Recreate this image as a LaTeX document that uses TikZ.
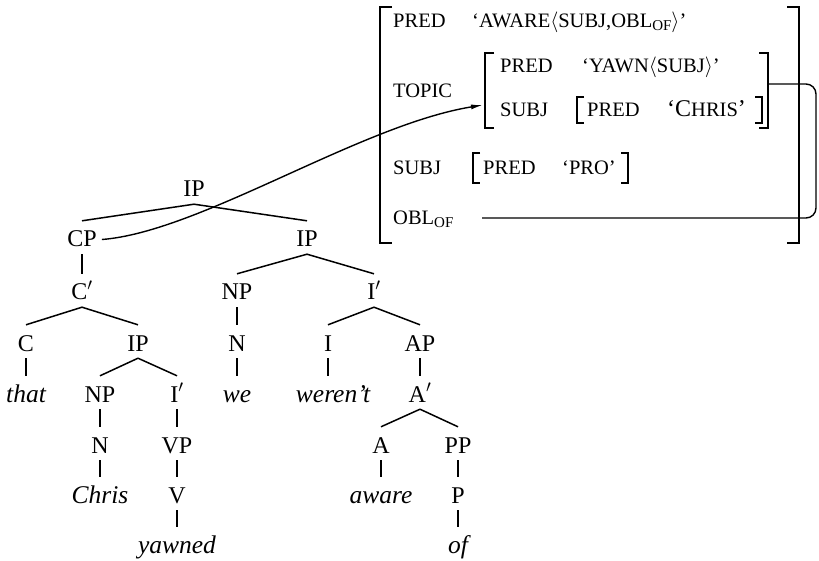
\documentclass[tikz,border=0pt]{standalone}
\usepackage{fontspec}
\setmainfont{Liberation Serif}
\usetikzlibrary{arrows.meta,calc}
\newcommand\sm[1]{{\fontsize{20.5}{20.5}\selectfont #1}}
\newcommand\sub[1]{\raisebox{-3pt}{\fontsize{15}{15}\selectfont #1}}
\newcommand\edg[2]{\draw[tline] ([yshift=-7pt]#1.south) -- ([yshift=11pt]#2.north);}
\newcommand\vedg[2]{\draw[tline] ([yshift=-7pt]#1.south) -- ([yshift=11pt]#1.south |- #2.north);}
\newcommand\lbr[4]{\draw[brk] ({#1+#4},#2) -- (#1,#2) -- (#1,#3) -- ({#1+#4},#3);}
\newcommand\rbr[4]{\draw[brk] ({#1-#4},#2) -- (#1,#2) -- (#1,#3) -- ({#1-#4},#3);}
\begin{document}
\begin{tikzpicture}[x=1pt,y=-1pt,
  lab/.style={anchor=base,inner sep=0pt,text height=15pt,text depth=0pt,font=\fontsize{24}{24}\selectfont},
  wrd/.style={anchor=base,inner sep=0pt,text height=15pt,text depth=0pt,font=\fontsize{25.5}{25.5}\selectfont\itshape},
  avm/.style={anchor=base west,inner sep=0pt,font=\fontsize{24}{24}\selectfont},
  tline/.style={line width=1.5pt},
  brk/.style={line width=1.7pt},
  conn/.style={line width=1.4pt}]
\useasboundingbox (0,0) rectangle (819,561);
% tree
\node[lab] (IPa) at (194,197) {IP};
\node[lab] (CP) at (82,247) {CP};
\node[lab] (IPb) at (307,247) {IP};
\node[lab] (Cbar) at (82,300) {C$'$};
\node[lab] (NPa) at (237,300) {NP};
\node[lab] (Ibara) at (374,300) {I$'$};
\node[lab] (C) at (26,351) {C};
\node[lab] (IPc) at (138,351) {IP};
\node[lab] (Na) at (237,351) {N};
\node[lab] (I) at (328,351) {I};
\node[lab] (AP) at (420,351) {AP};
\node[wrd] (that) at (26,402) {that};
\node[lab] (NPb) at (100,402) {NP};
\node[lab] (Ibarb) at (177,402) {I$'$};
\node[wrd] (we) at (237,402) {we};
\node[wrd] (werent) at (333,402) {weren't};
\node[lab] (Abar) at (420,402) {A$'$};
\node[lab] (Nb) at (100,453) {N};
\node[lab] (VP) at (177,453) {VP};
\node[lab] (A) at (381,453) {A};
\node[lab] (PP) at (458,453) {PP};
\node[wrd] (Chris) at (100,503) {Chris};
\node[lab] (V) at (177,503) {V};
\node[wrd] (aware) at (381,503) {aware};
\node[lab] (P) at (458,503) {P};
\node[wrd] (yawned) at (177,553) {yawned};
\node[wrd] (of) at (458,553) {of};
\edg{IPa}{CP}\edg{IPa}{IPb}
\vedg{CP}{Cbar}
\edg{IPb}{NPa}\edg{IPb}{Ibara}
\edg{Cbar}{C}\edg{Cbar}{IPc}
\vedg{NPa}{Na}
\edg{Ibara}{I}\edg{Ibara}{AP}
\vedg{C}{that}
\edg{IPc}{NPb}\edg{IPc}{Ibarb}
\vedg{Na}{we}
\vedg{I}{werent}
\vedg{AP}{Abar}
\vedg{NPb}{Nb}\vedg{Ibarb}{VP}
\edg{Abar}{A}\edg{Abar}{PP}
\vedg{Nb}{Chris}\vedg{VP}{V}
\vedg{A}{aware}\vedg{PP}{P}
\vedg{V}{yawned}\vedg{P}{of}
% AVM
\lbr{380}{7}{243}{12}\rbr{799}{7}{243}{12}
\node[avm] (pred1) at (393,28) {\sm{PRED}};
\node[avm] (aware1) at (472,28) {\sm{‘AWARE$\langle$SUBJ,OBL\sub{OF}$\rangle$’}};
\node[avm] (topic) at (393,98) {\sm{TOPIC}};
\lbr{485}{53}{128}{9}\rbr{768}{53}{128}{9}
\node[avm] (pred2) at (500,73) {\sm{PRED}};
\node[avm] (yawn) at (582,73) {\sm{‘YAWN$\langle$SUBJ$\rangle$’}};
\node[avm] (subj2) at (500,117) {\sm{SUBJ}};
\lbr{577}{97}{123}{7}\rbr{762}{97}{123}{7}
\node[avm] (pred3) at (587,117) {\sm{PRED}};
\node[avm] (chrisv) at (667,117) {‘C\sm{HRIS}’};
\node[avm] (subj1) at (393,175) {\sm{SUBJ}};
\lbr{473}{153}{183}{7}\rbr{628}{153}{183}{7}
\node[avm] (pred4) at (483,175) {\sm{PRED}};
\node[avm] (pro) at (562,175) {\sm{‘PRO’}};
\node[avm] (obl) at (393,225) {\sm{OBL\sub{OF}}};
% connectors
\coordinate (topicin) at (483,105);
\coordinate (topicout) at (768,84);
\coordinate (oblval) at (482,218);
\draw[conn,-{Latex[length=12pt,width=5pt]}] ([xshift=5pt]CP.east) .. controls (200,232) and (360,125) .. (topicin);
\draw[conn,rounded corners=10pt] (topicout) -- (816,84) -- (816,218) -- (oblval);
\end{tikzpicture}
\end{document}
